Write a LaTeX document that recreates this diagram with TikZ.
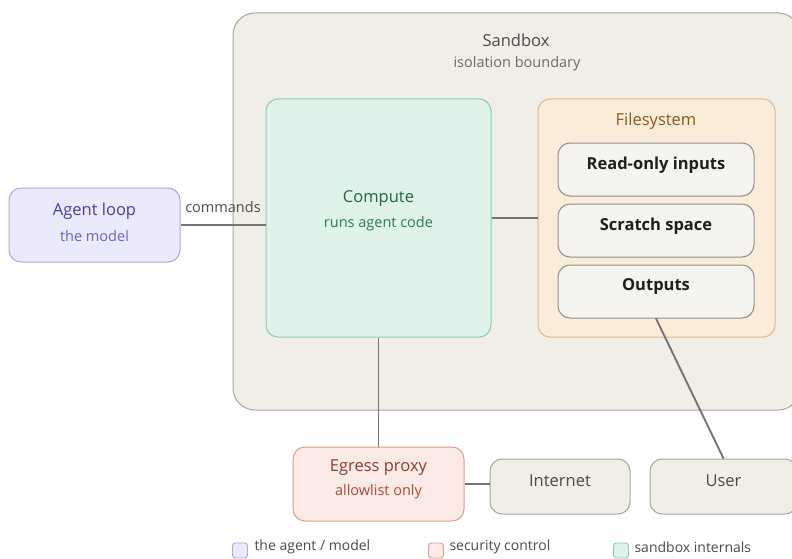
\documentclass[tikz,border=0pt]{standalone}
\usepackage{fontspec}
\setmainfont{Open Sans}
\usepackage{tikz}
\usetikzlibrary{positioning,calc}

\definecolor{boundaryfill}{HTML}{F1EDE7}
\definecolor{boundarydraw}{HTML}{A9A49D}
\definecolor{computefill}{HTML}{DFF3EB}
\definecolor{computedraw}{HTML}{86CDB2}
\definecolor{computetext}{HTML}{2F7A5A}
\definecolor{fsfill}{HTML}{FBEBD9}
\definecolor{fsdraw}{HTML}{DDB88E}
\definecolor{fstext}{HTML}{8A5A22}
\definecolor{slotfill}{HTML}{F6F4EE}
\definecolor{slotdraw}{HTML}{8E8E8E}
\definecolor{agentfill}{HTML}{EBE9FC}
\definecolor{agentdraw}{HTML}{ACA6E6}
\definecolor{agenttext}{HTML}{4B3F9F}
\definecolor{agentsub}{HTML}{6B62C7}
\definecolor{proxyfill}{HTML}{FBEAE5}
\definecolor{proxydraw}{HTML}{DE9D8A}
\definecolor{proxytext}{HTML}{8A3D2C}
\definecolor{proxysub}{HTML}{B04A34}
\definecolor{linkgray}{HTML}{747474}
\definecolor{plaintext}{HTML}{4A4A4A}

\tikzset{
    box/.style={rectangle,rounded corners=12pt,line width=1pt,inner sep=0pt,align=center},
    sandbox box/.style={box,rounded corners=22pt,fill=boundaryfill,draw=boundarydraw},
    compute box/.style={box,fill=computefill,draw=computedraw,text=computetext},
    fs box/.style={box,fill=fsfill,draw=fsdraw},
    slot/.style={box,fill=slotfill,draw=slotdraw,minimum width=196pt,minimum height=53pt,
        font=\fontsize{16.5}{19}\selectfont\bfseries,text=black!88},
    agent box/.style={box,fill=agentfill,draw=agentdraw,text=agenttext},
    proxy box/.style={box,fill=proxyfill,draw=proxydraw,text=proxytext},
    outside box/.style={box,fill=boundaryfill,draw=boundarydraw,text=plaintext,
        font=\fontsize{16.5}{19}\selectfont},
    title/.style={font=\fontsize{16.5}{19}\selectfont},
    subtitle/.style={font=\fontsize{14.5}{17}\selectfont},
    link/.style={draw=linkgray,line width=1.9pt},
    swatch/.style={rectangle,rounded corners=3pt,line width=0.9pt,minimum size=15pt,inner sep=0pt},
    legend text/.style={font=\fontsize{14}{16}\selectfont,text=plaintext,anchor=west},
}

\begin{document}
\begin{tikzpicture}[x=1pt,y=-1pt]
    \useasboundingbox (0,0) rectangle (792,559);
    \clip (0,0) rectangle (792,559);

    % isolation boundary
    \node[sandbox box,minimum width=567pt,minimum height=397pt] (sandbox) at (516.5,211.5) {};
    \node[title,text=plaintext] (sbtitle) at (516,40) {Sandbox};
    \node[subtitle,text=black!58] (sbsub) at (517,64) {isolation boundary};

    % compute and filesystem
    \node[compute box,minimum width=225pt,minimum height=238pt] (compute) at (378.5,218) {};
    \node[title,text=computetext!80!black] at (378.5,199) {Compute};
    \node[subtitle,text=computetext] at (378.5,224) {runs agent code};

    \node[fs box,minimum width=237pt,minimum height=238pt] (fs) at (656.5,218) {};
    \node[title,text=fstext] (fstitle) at (656,121) {Filesystem};
    \node[slot] (inputs) at (656,169.5) {\raisebox{13pt}{Read-only inputs}};
    \node[slot] (scratch) at (656,230.5) {\raisebox{13pt}{Scratch space}};
    \node[slot] (outputs) at (656,291.5) {\raisebox{13pt}{Outputs}};

    % outside the boundary
    \node[agent box,minimum width=171pt,minimum height=74pt] (agent) at (94.5,225) {};
    \node[title,text=agenttext] at (94.5,211) {Agent loop};
    \node[subtitle,text=agentsub] at (94.5,236) {the model};

    \node[proxy box,minimum width=171pt,minimum height=74pt] (proxy) at (378.5,484) {};
    \node[title,text=proxytext] at (378.5,468) {Egress proxy};
    \node[subtitle,text=proxysub] at (378.5,492) {allowlist only};

    \node[outside box,minimum width=140pt,minimum height=55pt] (internet) at (560,486.5) {\raisebox{11pt}{Internet}};
    \node[outside box,minimum width=147pt,minimum height=55pt] (user) at (723.5,486.5) {\raisebox{11pt}{User}};

    % connections
    \draw[link] (agent.east) -- (agent.east -| compute.west)
        node[pos=.5,above=8pt,subtitle,text=plaintext] {commands};
    \draw[link] (compute.east) -- (fs.west);
    \draw[link] (compute.south) -- (proxy.north);
    \draw[link] (proxy.east) -- (proxy.east -| internet.west);
    \draw[link] (outputs.south) -- (user.north);

    % legend
    \node[swatch,fill=agentfill,draw=agentdraw] (keyagent) at (240,550.5) {};
    \node[legend text] at (251,547) {the agent / model};
    \node[swatch,fill=proxyfill,draw=proxydraw] (keyproxy) at (436,550.5) {};
    \node[legend text] at (446,547) {security control};
    \node[swatch,fill=computefill,draw=computedraw] (keycompute) at (621,550.5) {};
    \node[legend text] at (631,547) {sandbox internals};
\end{tikzpicture}
\end{document}
